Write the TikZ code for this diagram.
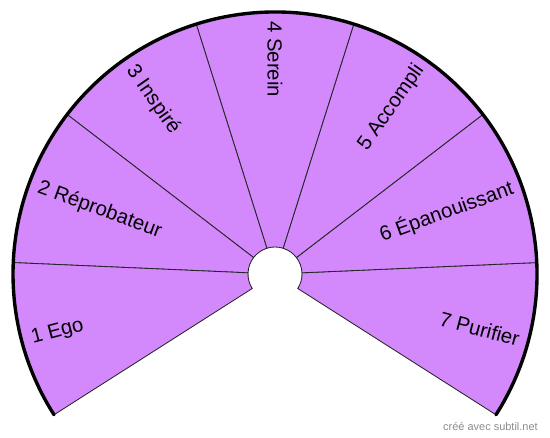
\documentclass[tikz,border=0pt]{standalone}
\usepackage{fontspec}
\setmainfont{Liberation Sans}
\definecolor{fanfill}{HTML}{D389FB}
\tikzset{
  sector/.style={fill=fanfill,draw=black!85,line width=0.6pt},
  rim/.style={line width=2.4pt,line cap=round},
  lab/.style={inner sep=0pt,font=\fontsize{14.5}{16}\selectfont}
}
\begin{document}
\begin{tikzpicture}[x=0.025cm,y=0.025cm]
\useasboundingbox (-275,-164) rectangle (275,274);
% seven sectors of the fan
\foreach \a in {0,...,6} {
  \pgfmathsetmacro{\s}{-32.5+35*\a}
  \pgfmathsetmacro{\e}{\s+35}
  \draw[sector] (\s:27) -- (\s:262) arc[start angle=\s,end angle=\e,radius=262]
    -- (\e:27) arc[start angle=\e,end angle=\s,radius=27] -- cycle;
}
\draw[rim] (-32.5:262) arc[start angle=-32.5,end angle=212.5,radius=262];
% labels
\node[lab,anchor=west,rotate=15] (l1) at (195:252) {1 Ego};
\node[lab,anchor=west,rotate=-20] (l2) at (160:252) {2 Réprobateur};
\node[lab,anchor=west,rotate=-55] (l3) at (125:252) {3 Inspiré};
\node[lab,anchor=west,rotate=-90] (l4) at (90:253) {4 Serein};
\node[lab,anchor=east,rotate=55] (l5) at (55:253) {5 Accompli};
\node[lab,anchor=east,rotate=20] (l6) at (20:253) {6 Épanouissant};
\node[lab,anchor=east,rotate=-15] (l7) at (-15:253) {7 Purifier};
\node[anchor=east,inner sep=0pt,text=black!45,font=\fontsize{7.8}{9}\selectfont] (credit) at (263,-153) {créé avec subtil.net};
\end{tikzpicture}
\end{document}
